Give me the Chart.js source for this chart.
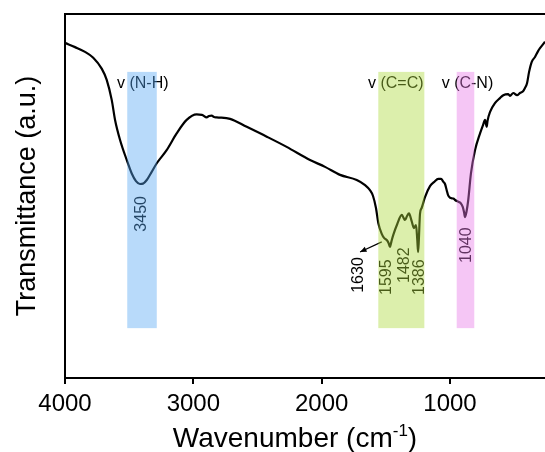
<!DOCTYPE html>
<html>
<head>
<meta charset="utf-8">
<script src="https://cdn.jsdelivr.net/npm/chart.js@4"></script>
<style>
  html, body { margin: 0; padding: 0; background: #fff; }
  #wrap { width: 545px; height: 452px; position: relative; }
</style>
</head>
<body>
<div id="wrap"><canvas id="ftir"></canvas></div>
<script>
// FTIR spectrum
const WAVENUMBER = [3996, 3922, 3844, 3780, 3714, 3675, 3636, 3610, 3571, 3519, 3480, 3447, 3416, 3392, 3363, 3330,
    3285, 3208, 3130, 3052, 2974, 2933, 2896, 2878, 2857, 2839, 2818, 2714, 2584, 2428, 2273, 2091, 1974, 1857,
    1727, 1662, 1624, 1600, 1577, 1559, 1532, 1514, 1493, 1479, 1468, 1456, 1442, 1411, 1376, 1362, 1351, 1335,
    1320, 1299, 1281, 1265, 1255, 1249, 1243, 1234, 1221, 1195, 1156, 1125, 1091, 1070, 1052, 1039, 1026, 1016,
    1000, 974, 961, 935, 918, 901, 891, 883, 872, 858, 837, 805, 766, 743, 727, 720, 714, 708, 688, 650, 611,
    585, 548, 533, 507, 478, 455, 431, 416, 400, 384, 364, 338, 314, 299, 260];
const TRANSMITTANCE = [92.0, 90.9, 89.6, 88.0, 85.0, 81.9, 76.4, 70.9, 65.4, 59.9, 56.2, 54.1, 53.3, 53.4, 54.4, 56.3,
    59.0, 62.6, 67.2, 70.9, 72.4, 72.3, 71.6, 72.0, 72.1, 71.7, 71.6, 71.2, 69.0, 66.3, 63.5, 59.9, 58.0, 55.8,
    54.4, 53.0, 51.6, 50.0, 46.7, 42.6, 39.6, 38.5, 37.9, 37.1, 36.0, 37.6, 39.3, 42.3, 44.8, 44.0, 43.4, 44.5,
    45.2, 43.1, 41.2, 42.0, 37.9, 34.6, 37.9, 45.1, 46.7, 49.7, 52.7, 53.8, 54.7, 54.7, 53.9, 53.3, 51.6, 50.3,
    49.5, 49.3, 48.9, 48.4, 48.1, 47.0, 45.6, 44.2, 45.6, 48.9, 56.2, 62.6, 67.2, 69.5, 70.9, 69.8, 69.0, 70.6,
    73.1, 75.5, 76.9, 77.7, 78.0, 77.5, 78.3, 77.7, 78.3, 78.8, 79.7, 81.0, 84.1, 86.8, 88.2, 89.8, 90.6, 92.4];

const X_TICKS = [4000, 3000, 2000, 1000];

// absorption regions
const BAND_LABELS = ['v (N-H)', 'v (C=C)', 'v (C-N)'];
const BAND_START = [3515, 1559, 948];
const BAND_END = [3285, 1200, 811];
const BAND_COLORS = ['rgba(85,168,243,0.42)', 'rgba(172,218,58,0.42)', 'rgba(230,118,230,0.42)'];

const PEAK_LABELS = ['3450', '1630', '1595', '1482', '1386', '1040'];

// where the texts sit, in axis units
const bandTitlePos = [[3595, 81], [1639, 81], [1065, 81]];
const peakTextPos = [[3402, 45.1], [1715, 28.3], [1493, 27.7], [1351, 31.0], [1234, 27.7], [870, 36.5]];
const arrowFrom = [1532, 37.4], arrowTo = [1701, 34.6];
const bandTop = 84.1, bandBottom = 13.7;

const FONT = '"Liberation Sans", Arial, sans-serif';

const annotations = {
    id: 'annotations',
    beforeDatasetsDraw(chart) {
        // top frame line
        const { ctx, chartArea } = chart;
        ctx.save();
        ctx.strokeStyle = '#000';
        ctx.lineWidth = 2;
        ctx.beginPath();
        ctx.moveTo(chartArea.left - 1, chartArea.top);
        ctx.lineTo(chartArea.right + 2, chartArea.top);
        ctx.stroke();
        ctx.restore();
    },
    afterDatasetsDraw(chart) {
        const { ctx, scales: { x, y } } = chart;
        ctx.save();
        ctx.fillStyle = '#000';
        ctx.strokeStyle = '#000';
        ctx.font = '16px ' + FONT;
        ctx.textBaseline = 'middle';

        ctx.textAlign = 'left';
        BAND_LABELS.forEach((t, i) => {
            ctx.fillText(t, x.getPixelForValue(bandTitlePos[i][0]), y.getPixelForValue(bandTitlePos[i][1]));
        });

        ctx.textAlign = 'center';
        PEAK_LABELS.forEach((t, i) => {
            ctx.save();
            ctx.translate(x.getPixelForValue(peakTextPos[i][0]), y.getPixelForValue(peakTextPos[i][1]));
            ctx.rotate(-Math.PI / 2);
            ctx.fillText(t, 0, 0);
            ctx.restore();
        });

        // arrow pointing to the 1630 shoulder label
        const ax0 = x.getPixelForValue(arrowFrom[0]), ay0 = y.getPixelForValue(arrowFrom[1]);
        const ax1 = x.getPixelForValue(arrowTo[0]), ay1 = y.getPixelForValue(arrowTo[1]);
        const ang = Math.atan2(ay1 - ay0, ax1 - ax0);
        ctx.lineWidth = 1.2;
        ctx.beginPath();
        ctx.moveTo(ax0, ay0);
        ctx.lineTo(ax1, ay1);
        ctx.stroke();
        ctx.beginPath();
        ctx.moveTo(ax1, ay1);
        ctx.lineTo(ax1 - 7 * Math.cos(ang - 0.4), ay1 - 7 * Math.sin(ang - 0.4));
        ctx.lineTo(ax1 - 7 * Math.cos(ang + 0.4), ay1 - 7 * Math.sin(ang + 0.4));
        ctx.closePath();
        ctx.fill();

        // translucent bands over everything
        const yt = y.getPixelForValue(bandTop), yb = y.getPixelForValue(bandBottom);
        BAND_START.forEach((s, i) => {
            const x0 = x.getPixelForValue(s), x1 = x.getPixelForValue(BAND_END[i]);
            ctx.fillStyle = BAND_COLORS[i];
            ctx.fillRect(x0, yt, x1 - x0, yb - yt);
        });
        ctx.restore();
    },
    afterDraw(chart) {
        // x axis title with superscript
        const { ctx } = chart;
        ctx.save();
        ctx.fillStyle = '#000';
        ctx.textBaseline = 'alphabetic';
        ctx.textAlign = 'left';
        const main = 'Wavenumber (cm';
        ctx.font = '28px ' + FONT;
        const w1 = ctx.measureText(main).width;
        const w3 = ctx.measureText(')').width;
        ctx.font = '17px ' + FONT;
        const w2 = ctx.measureText('-1').width;
        const total = w1 + w2 + w3;
        let sx = 295 - total / 2;
        const base = 447;
        ctx.font = '28px ' + FONT;
        ctx.fillText(main, sx, base);
        ctx.font = '17px ' + FONT;
        ctx.fillText('-1', sx + w1, base - 11);
        ctx.font = '28px ' + FONT;
        ctx.fillText(')', sx + w1 + w2, base);
        ctx.restore();
    }
};

new Chart(document.getElementById('ftir'), {
    type: 'line',
    data: {
        datasets: [{
            data: WAVENUMBER.map((w, i) => ({ x: w, y: TRANSMITTANCE[i] })),
            borderColor: '#000',
            borderWidth: 2.2,
            pointRadius: 0,
            cubicInterpolationMode: 'monotone',
            fill: false
        }]
    },
    options: {
        responsive: true,
        maintainAspectRatio: false,
        animation: false,
        layout: { padding: { top: 14, right: 0, left: 0, bottom: 0 } },
        plugins: { legend: { display: false }, tooltip: { enabled: false } },
        scales: {
            x: {
                type: 'linear',
                reverse: true,
                min: 260,
                max: 4000,
                afterBuildTicks: (scale) => { scale.ticks = X_TICKS.map(v => ({ value: v })); },
                afterFit: (scale) => { scale.height = 74; },
                grid: { display: true, drawOnChartArea: false, drawTicks: true, tickLength: 6, color: '#000', lineWidth: 2 },
                border: { display: true, color: '#000', width: 2 },
                ticks: { color: '#000', font: { family: FONT, size: 24 }, padding: 6, maxRotation: 0, callback: (v) => String(v) }
            },
            y: {
                min: 0,
                max: 100,
                afterFit: (scale) => { scale.width = 65; },
                grid: { display: false },
                border: { display: true, color: '#000', width: 2 },
                ticks: { display: false },
                title: { display: true, text: 'Transmittance (a.u.)', color: '#000', font: { family: FONT, size: 27, lineHeight: 1.2 }, padding: { top: 11, bottom: 0 } }
            }
        }
    },
    plugins: [annotations]
});
</script>
</body>
</html>
